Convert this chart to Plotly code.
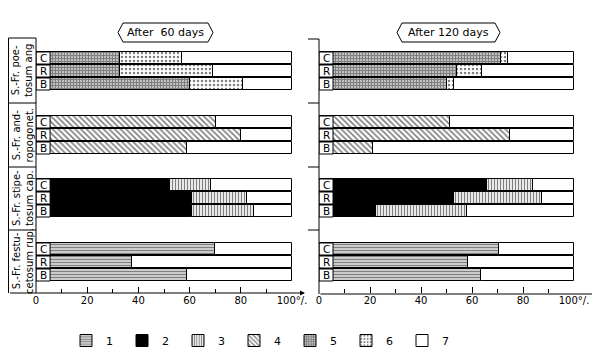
import plotly.graph_objects as go

# ---------------- data ----------------
groups = ["S.-Fr. poe-<br>tosum ang", "S.-Fr. and-<br>ropogonet.",
          "S.-Fr. stipe-<br>tosum cap.", "S.-Fr. festu-<br>cetosum rup."]
rows = ["C", "R", "B"]
panels = ["After  60 days", "After 120 days"]
categories = ["1", "2", "3", "4", "5", "6"]
tick_vals = [0, 20, 40, 60, 80, 100]
tick_text = ["0", "20", "40", "60", "80", "100°/."]

# segment widths (%) per row: order = poetosum C,R,B / andropogonet C,R,B / stipetosum C,R,B / festucetosum C,R,B
d60 = {
    "1": [None, None, None, None, None, None, None, None, None, 70, 37.5, 59],
    "2": [None, None, None, None, None, None, 52.5, 61, 61, None, None, None],
    "3": [None, None, None, None, None, None, 16, 21.5, 24, None, None, None],
    "4": [None, None, None, 70.5, 80, 59, None, None, None, None, None, None],
    "5": [33, 33, 60, None, None, None, None, None, None, None, None, None],
    "6": [24, 36, 21, None, None, None, None, None, None, None, None, None],
}
d120 = {
    "1": [None, None, None, None, None, None, None, None, None, 70.5, 58.5, 63.5],
    "2": [None, None, None, None, None, None, 66, 53, 22.5, None, None, None],
    "3": [None, None, None, None, None, None, 18, 34.5, 35.5, None, None, None],
    "4": [None, None, None, 51.5, 75, 21, None, None, None, None, None, None],
    "5": [71.5, 54, 50, None, None, None, None, None, None, None, None, None],
    "6": [2.5, 10, 3, None, None, None, None, None, None, None, None, None],
}

# ---------------- styling ----------------
# page body has an 8px margin: figure is 592x349 placed at (8, 8) inside the 600x357 window
OFF = 8
W, H = 600 - OFF, 357 - OFF
FONT = "DejaVu Sans"
def px(x): return (x - OFF) / W
def py(y): return 1 - (y - OFF) / H

styles = {
    "1": dict(color="white", pattern=dict(shape="-", fgcolor="black", bgcolor="white", size=3, solidity=0.6)),
    "2": dict(color="black"),
    "3": dict(color="white", pattern=dict(shape="|", fgcolor="black", bgcolor="white", size=3, solidity=0.45)),
    "4": dict(color="white", pattern=dict(shape="\\", fgcolor="black", bgcolor="white", size=4, solidity=0.4)),
    "5": dict(color="white", pattern=dict(shape="+", fgcolor="black", bgcolor="white", size=3, solidity=0.8)),
    "6": dict(color="white", pattern=dict(shape=".", fgcolor="black", bgcolor="white", size=4, solidity=0.3)),
    "7": dict(color="white"),
}

group_centers = [71, 135, 198, 262]
row_offsets = [-13, 0, 13]
ycen = [gc + ro for gc in group_centers for ro in row_offsets]
row_labels = [r for _ in groups for r in rows]

fig = go.Figure()
for pi, data in enumerate([d60, d120]):
    xa = "x" if pi == 0 else "x2"
    ya = "y" if pi == 0 else "y2"
    base = [0.0] * len(ycen)
    for cat in categories + ["7"]:
        if cat == "7":
            widths = [100 - b for b in base]
        else:
            widths = data[cat]
        bases = list(base)
        fig.add_trace(go.Bar(
            x=widths, base=bases, y=ycen, orientation="h", width=12,
            xaxis=xa, yaxis=ya, name=cat, legendgroup=cat, showlegend=(pi == 0),
            marker=dict(line=dict(color="black", width=1), **styles[cat]),
            hoverinfo="skip",
        ))
        base = [b + (w or 0) for b, w in zip(base, widths)]

shapes = []
annotations = []

# letter boxes C/R/B
for ref in [("x", "y"), ("x2", "y2")]:
    for yc, lab in zip(ycen, row_labels):
        shapes.append(dict(type="rect", xref=ref[0], yref=ref[1], x0=0, x1=5.5, y0=yc - 6, y1=yc + 6,
                           fillcolor="white", line=dict(color="black", width=1), layer="above"))
        annotations.append(dict(xref=ref[0], yref=ref[1], x=2.75, y=yc, text=lab, showarrow=False,
                                xanchor="center", yanchor="middle",
                                font=dict(family=FONT, size=10.5, color="black")))

# left label column
seps = [38, 103, 167, 230, 293]
line = dict(color="black", width=1)
shapes.append(dict(type="line", xref="paper", yref="paper", x0=px(8.5), x1=px(8.5), y0=py(38), y1=py(293), line=line))
shapes.append(dict(type="line", xref="paper", yref="paper", x0=px(36), x1=px(36), y0=py(38), y1=py(293), line=line))
for s in seps[:-1]:
    shapes.append(dict(type="line", xref="paper", yref="paper", x0=px(8.5), x1=px(36), y0=py(s), y1=py(s), line=line))
for gi, g in enumerate(groups):
    annotations.append(dict(xref="paper", yref="paper", x=px(22.5), y=py((seps[gi] + seps[gi + 1]) / 2),
                            text=g, textangle=-90, showarrow=False, xanchor="center", yanchor="middle",
                            font=dict(family=FONT, size=10, color="black")))

# right panel vertical axis with group ticks
shapes.append(dict(type="line", xref="paper", yref="paper", x0=px(319), x1=px(319), y0=py(39), y1=py(294), line=line))
for s in [39, 103, 167, 230]:
    shapes.append(dict(type="line", xref="paper", yref="paper", x0=px(308), x1=px(319), y0=py(s), y1=py(s), line=line))

# horizontal axes with arrows
annotations.append(dict(xref="paper", yref="paper", x=px(305), y=py(293), ax=-296.5, ay=0,
                        axref="pixel", ayref="pixel", showarrow=True, arrowhead=2, arrowsize=1,
                        arrowwidth=1, arrowcolor="black", text=""))
annotations.append(dict(xref="paper", yref="paper", x=px(597), y=py(294), ax=-278, ay=0,
                        axref="pixel", ayref="pixel", showarrow=True, arrowhead=2, arrowsize=1,
                        arrowwidth=1, arrowcolor="black", text=""))

# title hexagons
for (l, r), title in zip([(118, 213), (397, 500)], panels):
    top, mid, bot = 23, 32.5, 42
    path = (f"M {px(l)},{py(mid)} L {px(l+5)},{py(top)} L {px(r-5)},{py(top)} "
            f"L {px(r)},{py(mid)} L {px(r-5)},{py(bot)} L {px(l+5)},{py(bot)} Z")
    shapes.append(dict(type="path", xref="paper", yref="paper", path=path, line=line, fillcolor="white",
                       layer="below"))
    annotations.append(dict(xref="paper", yref="paper", x=px((l + r) / 2), y=py(mid), text=title,
                            showarrow=False, xanchor="center", yanchor="middle",
                            font=dict(family=FONT, size=11, color="black")))

xcommon = dict(range=[0, 100], tickvals=tick_vals, ticktext=tick_text, ticks="inside", ticklen=6,
               tickcolor="black", tickwidth=1, showgrid=False, zeroline=False, showline=False,
               tickfont=dict(family=FONT, size=10, color="black"),
               minor=dict(dtick=10, ticks="inside", ticklen=4, tickcolor="black", showgrid=False))
ycommon = dict(range=[293, 39], showgrid=False, zeroline=False, showticklabels=False, showline=False,
               domain=[py(293), py(39)])

fig.update_layout(
    width=W, height=H, margin=dict(l=0, r=0, t=0, b=0, autoexpand=False),
    paper_bgcolor="white", plot_bgcolor="rgba(0,0,0,0)",
    barmode="overlay", bargap=0,
    xaxis=dict(domain=[px(36), px(292)], anchor="y", **xcommon),
    xaxis2=dict(domain=[px(319), px(574)], anchor="y2", **xcommon),
    yaxis=dict(anchor="x", **ycommon),
    yaxis2=dict(anchor="x2", **ycommon),
    shapes=shapes, annotations=annotations,
    legend=dict(orientation="h", x=px(66), y=py(326), xanchor="left", yanchor="top",
                entrywidth=11, entrywidthmode="pixels", itemwidth=30, traceorder="normal",
                font=dict(family=FONT, size=11, color="black"), bgcolor="rgba(0,0,0,0)"),
    font=dict(family=FONT, color="black"),
)

fig.write_html("out.html")
